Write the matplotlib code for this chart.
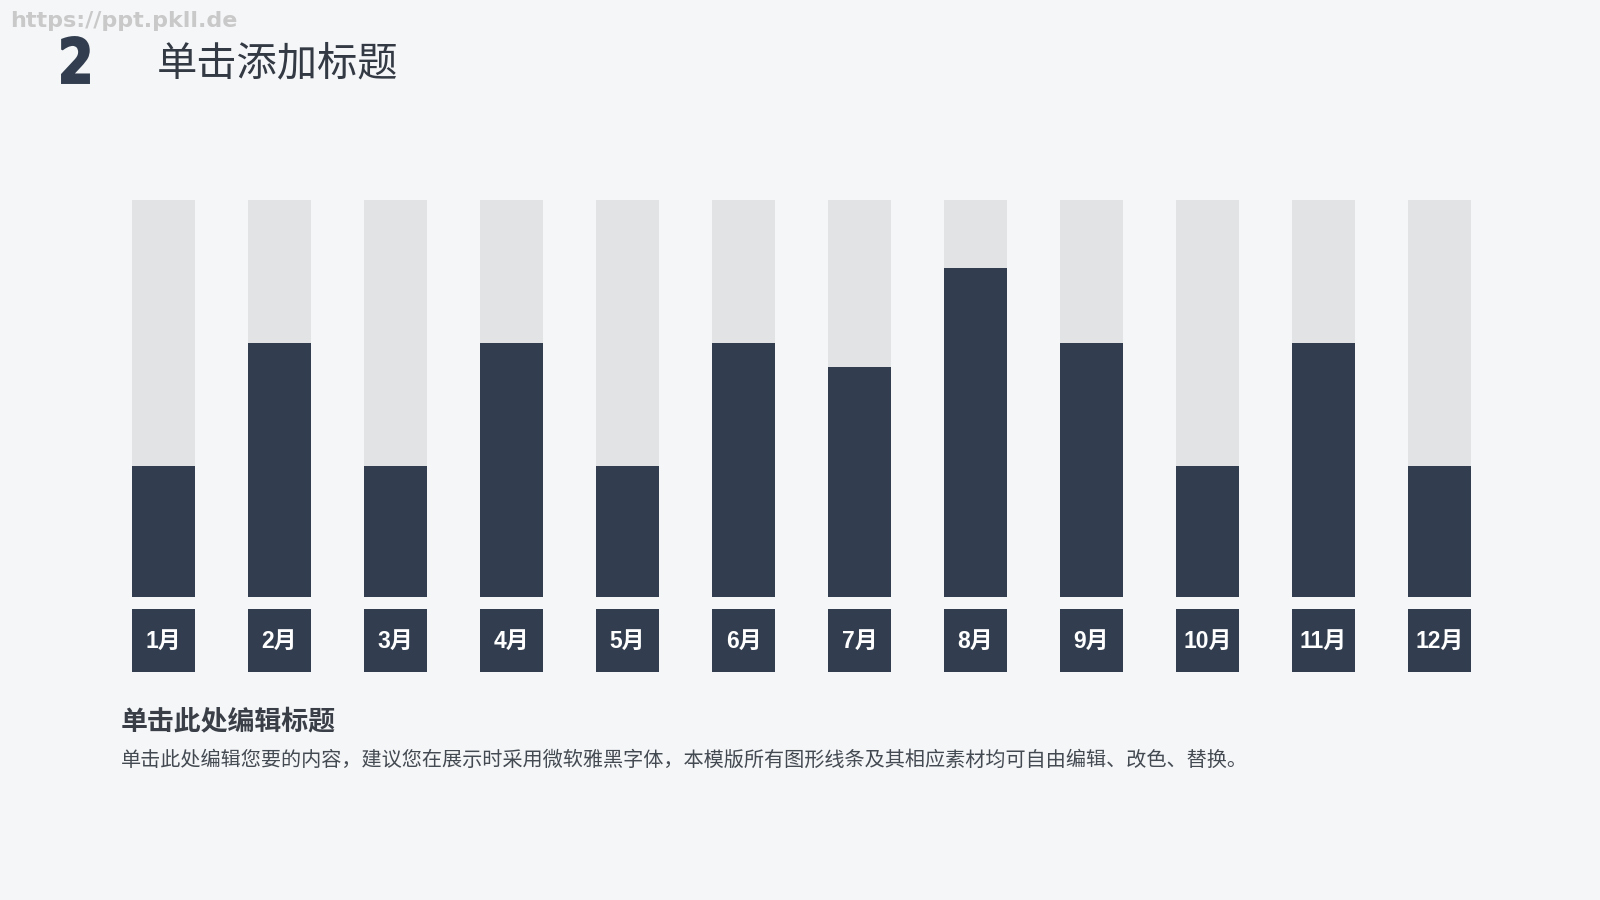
import matplotlib.pyplot as plt
from matplotlib.textpath import TextPath
from matplotlib.patches import PathPatch
from matplotlib.font_manager import FontProperties
from matplotlib.transforms import Affine2D

plt.rcParams['font.family'] = ['Noto Sans CJK SC', 'DejaVu Sans']

months = ['1月', '2月', '3月', '4月', '5月', '6月', '7月', '8月', '9月', '10月', '11月', '12月']
values = [33, 64, 33, 64, 33, 64, 58, 83, 64, 33, 64, 33]
full = 100

dark = '#323e4f'
light = '#e2e3e5'
bg = '#f5f6f8'

fig = plt.figure(figsize=(16, 9), dpi=100, facecolor=bg)

# bars + month boxes
ax = fig.add_axes([0.0659, 0.2533, 0.87, 0.5244])
ax.set_facecolor(bg)
x = list(range(len(months)))
w = 0.543
ax.bar(x, [full] * len(x), width=w, color=light)
ax.bar(x, values, width=w, color=dark)
box_top, box_bot = -3.02, -18.9
ax.bar(x, [box_top - box_bot] * len(x), bottom=box_bot, width=w, color=dark)
for i, m in enumerate(months):
    ax.text(i, (box_top + box_bot) / 2 - 0.3, m, ha='center', va='center',
            color='white', fontsize=16.5, fontweight='bold',
            family=['Liberation Sans', 'Noto Sans CJK SC'])
ax.set_xlim(-0.5, 11.5)
ax.set_ylim(box_bot, full)
ax.axis('off')

# header
fig.text(10 / 1600, 1 - 21 / 900, 'https://ppt.pkll.de', color='#c9c9c9',
         fontsize=16, fontweight='bold', va='center', ha='left', family='DejaVu Sans')

# condensed "2": squeeze a bold glyph into the box it fills in the slide
tp = TextPath((0, 0), '2', size=100, prop=FontProperties(family='DejaVu Sans', weight='bold'))
ext = tp.get_extents()
x0, x1, y0, y1 = 62, 89, 900 - 83, 900 - 37
tr = (Affine2D().translate(-ext.x0, -ext.y0)
      .scale((x1 - x0) / ext.width, (y1 - y0) / ext.height)
      .translate(x0, y0))
fig.patches.append(PathPatch(tr.transform_path(tp), facecolor=dark, edgecolor=dark,
                             lw=1.4, transform=None, figure=fig))

fig.text(157 / 1600, 1 - 64 / 900, '单击添加标题', color='#333a44', fontsize=29,
         ha='left', va='center')

# footer text
fig.text(121 / 1600, 1 - 721 / 900, '单击此处编辑标题', color='#3a3f47', fontsize=19.4,
         fontweight='bold', ha='left', va='center')
fig.text(121 / 1600, 1 - 760 / 900,
         '单击此处编辑您要的内容，建议您在展示时采用微软雅黑字体，本模版所有图形线条及其相应素材均可自由编辑、改色、替换。',
         color='#444a52', fontsize=14.5, ha='left', va='center')

fig.savefig('out.png', dpi=100, facecolor=bg)
